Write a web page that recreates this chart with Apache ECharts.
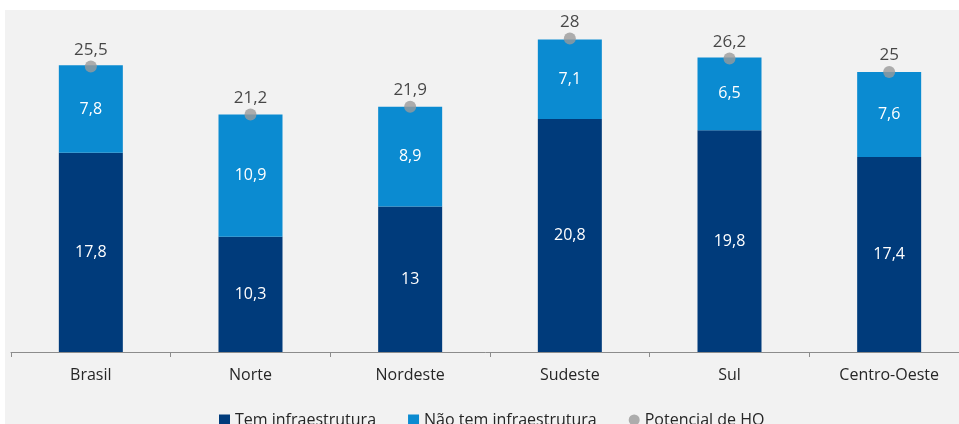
<!DOCTYPE html>
<html>
<head>
<meta charset="utf-8">
<script src="https://cdn.jsdelivr.net/npm/echarts@6/dist/echarts.min.js"></script>
<style>html,body{margin:0;padding:0;background:#fff}#c{width:959px;height:424px}</style>
</head>
<body>
<div id="c"></div>
<script>
const categories = ['Brasil', 'Norte', 'Nordeste', 'Sudeste', 'Sul', 'Centro-Oeste'];
const temInfra = [17.8, 10.3, 13, 20.8, 19.8, 17.4];
const naoTemInfra = [7.8, 10.9, 8.9, 7.1, 6.5, 7.6];
const potencialHO = [25.5, 21.2, 21.9, 28, 26.2, 25];

const fmt = v => String(v).replace('.', ',');
const FONT = '"Open Sans", sans-serif';

const chart = echarts.init(document.getElementById('c'), null, {renderer: 'canvas'});
chart.setOption({
  backgroundColor: '#ffffff',
  animation: false,
  graphic: [{
    type: 'rect', z: -10, silent: true,
    shape: {x: 5, y: 10, width: 960, height: 420},
    style: {fill: '#f2f2f2'}
  }],
  grid: {left: 11, top: 16, width: 958, height: 336, containLabel: false, outerBoundsMode: 'none'},
  legend: {
    left: 214, top: 407,
    itemWidth: 11, itemHeight: 11, itemGap: 32,
    textStyle: {fontFamily: FONT, fontSize: 16, color: '#262626'},
    data: [
      {name: 'Tem infraestrutura', icon: 'rect'},
      {name: 'Não tem infraestrutura', icon: 'rect'},
      {name: 'Potencial de HO', icon: 'circle'}
    ]
  },
  xAxis: {
    type: 'category', data: categories,
    axisLine: {lineStyle: {color: '#8c8c8c', width: 1}},
    axisTick: {show: true, length: 5, lineStyle: {color: '#8c8c8c'}},
    axisLabel: {fontFamily: FONT, fontSize: 16, color: '#262626', margin: 15}
  },
  yAxis: {type: 'value', min: 0, max: 30, show: false, splitLine: {show: false}},
  series: [
    {
      name: 'Tem infraestrutura', type: 'bar', stack: 'a', barWidth: 64,
      data: temInfra, itemStyle: {color: '#003b7b'},
      label: {show: true, position: 'inside', color: '#fff', fontFamily: FONT, fontSize: 16,
        formatter: p => fmt(p.value)}
    },
    {
      name: 'Não tem infraestrutura', type: 'bar', stack: 'a', barWidth: 64,
      data: naoTemInfra, itemStyle: {color: '#0b8bd1'},
      label: {show: true, position: 'inside', color: '#fff', fontFamily: FONT, fontSize: 16,
        formatter: p => fmt(p.value)}
    },
    {
      name: 'Potencial de HO', type: 'scatter', data: potencialHO,
      symbol: 'circle', symbolSize: 12, itemStyle: {color: '#9a9a9a'}, z: 5,
      label: {show: true, position: 'top', distance: 2, color: '#1a1a1a', fontFamily: FONT, fontSize: 17,
        formatter: p => fmt(p.value)}
    }
  ]
});
</script>
</body>
</html>
